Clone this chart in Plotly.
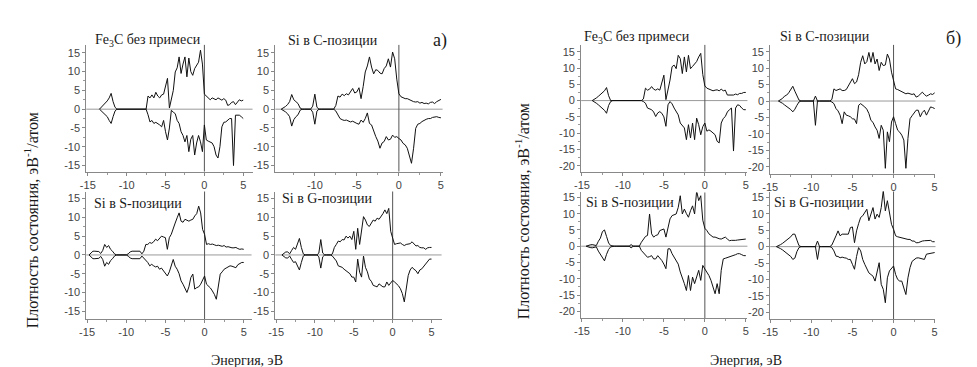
import plotly.graph_objects as go

W, H = 977, 367

# Energy grid (eV)
E = [
    -15, -14.75, -14.5, -14.25,
    -14, -13.75, -13.5, -13.25,
    -13, -12.75, -12.5, -12.25,
    -12, -11.75, -11.5, -11.25,
    -11, -10.75, -10.5, -10.25,
    -10, -9.75, -9.5, -9.25,
    -9, -8.75, -8.5, -8.25,
    -8, -7.75, -7.5, -7.25,
    -7, -6.75, -6.5, -6.25,
    -6, -5.75, -5.5, -5.25,
    -5, -4.75, -4.5, -4.25,
    -4, -3.75, -3.5, -3.25,
    -3, -2.75, -2.5, -2.25,
    -2, -1.75, -1.5, -1.25,
    -1, -0.75, -0.5, -0.25,
    0, 0.25, 0.5, 0.75,
    1, 1.25, 1.5, 1.75,
    2, 2.25, 2.5, 2.75,
    3, 3.25, 3.5, 3.75,
    4, 4.25, 4.5, 4.75,
    5,
]

# ---------------- panel a) ----------------
a_fe3c_up = [
    0, 0, 0, 0,
    0, 0, 0, 0.5,
    1, 1.5, 2.2, 3,
    4.2, 2, 0.5, 0,
    0, 0, 0, 0,
    0, 0, 0, 0,
    0, 0, 0, 0,
    0, 0, 0, 3.5,
    3, 3.8, 3, 4.5,
    3.5, 3, 3.8, 4,
    6, 8.2, 0.3, 3,
    5, 9.9, 11, 13.9,
    9.5, 12, 13.9, 8.6,
    13.6, 10, 9, 10.8,
    11.5, 12.5, 15.7, 12,
    4, 3.5, 2.8, 2.5,
    3, 2.8, 2.5, 3,
    2.6, 2.4, 2.8, 2.4,
    1, 1.2, 1.8, 2,
    1.2, 1.8, 2.5, 2.2,
    2.4,
]
a_fe3c_down = [
    0, 0, 0, 0,
    0, 0, 0, -0.5,
    -1, -1.5, -2, -3,
    -3.8, -2, -0.5, 0,
    0, 0, 0, 0,
    0, 0, 0, 0,
    0, 0, 0, 0,
    0, 0, 0, -1.5,
    -3.4, -3, -3.8, -3.5,
    -3.8, -4.2, -4.7, -3,
    -6, -8.2, -5, -0.3,
    -0.8, -1.2, -3, -3.8,
    -6, -7, -8.7, -7,
    -11.3, -8, -7, -12.2,
    -9, -7, -8.7, -11.3,
    -4.2, -8.2, -8.5, -8.7,
    -9, -10, -12.2, -13,
    -10, -4.7, -3.5, -3.4,
    -3, -2.5, -2.5, -15,
    -1.6, -1.6, -1.6, -2,
    -2.5,
]
a_sic_up = [
    0, 0, 0, 0,
    0, 0.3, 0.7, 1.2,
    2, 3.9, 2.5, 2,
    1.5, 0.3, 0, 0,
    0, 0, 0, 0.8,
    4, 0.5, 0, 0,
    0, 0, 0, 0,
    0, 0, 1, 3.5,
    3.2, 4, 3.6, 4.1,
    3.8, 4.5, 5.5, 4.3,
    4.6, 5.7, 2.8, 6,
    9.9, 11.5, 13.9, 11.2,
    9.4, 10.5, 10.3, 9.6,
    9.4, 10.8, 11.5, 13.4,
    11.2, 15.2, 13.4, 8,
    4.1, 3.3, 3, 2.8,
    2.8, 2.5, 2.3, 2,
    1.9, 2, 1.6, 1.8,
    1.5, 1.6, 1.4, 1.8,
    1.9, 1.5, 2, 2.3,
    2.6,
]
a_sic_down = [
    0, 0, 0, 0,
    0, -0.3, -0.7, -1.2,
    -2, -4.5, -2.8, -2,
    -1.5, -0.3, 0, 0,
    0, 0, 0, -0.8,
    -4, -0.5, 0, 0,
    0, 0, 0, 0,
    0, 0, -0.5, -1.6,
    -2.5, -2.8, -3, -2.9,
    -3.1, -3.4, -3.2, -3.6,
    -3.8, -4, -2.9, -3.5,
    -2.5, -1, -3.8, -4.2,
    -6, -7.3, -8.5, -10.4,
    -9, -8.6, -7.3, -8.2,
    -8, -6.9, -7.5, -7.3,
    -7.8, -8.2, -9.1, -9.5,
    -10.4, -12.2, -14.4, -10.4,
    -5.1, -4, -3.8, -3.3,
    -2.9, -2.7, -2.5, -2.5,
    -2.2, -2, -2, -2.2,
    -2.3,
]
a_sis_up = [
    0, 0, 0.5, 1,
    1, 1, 0.9, 0.4,
    1.2, 2.8, 2, 2.5,
    1.5, 1, 0.3, 0,
    0, 0, 0, 0,
    0, 0.3, 0.8, 1,
    1, 0.9, 0.8, 1,
    0.3, 1, 2.8, 2.8,
    3.3, 3.1, 3.5, 4.2,
    3.8, 4.5, 5, 4.8,
    4.6, 1.5, 4.6, 5.5,
    7.3, 8.5, 9.9, 11.2,
    9, 8.7, 9.5, 9.2,
    9, 9.3, 9.5, 10.4,
    11, 13, 11.2, 6.8,
    5.5, 2.8, 3, 2.8,
    2.9, 2.7, 2.5, 2.6,
    2.4, 2.3, 2.5, 2.1,
    2.2, 2, 1.9, 1.9,
    2, 1.7, 1.5, 1.6,
    1.5,
]
a_sis_down = [
    0, 0, -0.5, -1,
    -1, -1, -0.9, -0.4,
    -1.2, -3, -2, -2.5,
    -1.5, -1, -0.3, 0,
    0, 0, 0, 0,
    0, -0.3, -0.8, -1,
    -1, -0.9, -0.8, -1,
    -0.3, -0.8, -1.5, -2,
    -2.9, -2.5, -2.9, -3.2,
    -3, -3.8, -3.5, -4.2,
    -4.7, -5.6, -4.5, -2.5,
    -1.2, -3, -3.8, -5,
    -6.9, -7.8, -8.7, -10,
    -8.5, -6, -5.1, -9.1,
    -8.7, -8.5, -7.8, -6.5,
    -5.6, -7.8, -8.2, -8.8,
    -9.6, -10.5, -11.8, -8.7,
    -5.1, -4.5, -3.8, -3.5,
    -3.2, -2.9, -3, -3.2,
    -3.4, -2.6, -2.3, -2,
    -2,
]
a_sig_up = [
    0, 0, 0, 0,
    0.3, 0.8, 0.8, 0.3,
    1.2, 2, 1.5, 3,
    4.4, 2, 0.3, 0,
    0, 0, 0, 0,
    0, 0, 0.5, 4.1,
    0.5, 0, 0, 0,
    0, 0.3, 2, 2.8,
    3.7, 3.5, 4.1, 4,
    5, 4.5, 5, 4.1,
    6.3, 1.5, 7.1, 2.8,
    6.3, 10.2, 9.3, 8,
    7.6, 8.5, 9.3, 9,
    9.8, 9.5, 10.2, 11,
    12, 11, 12.4, 6.3,
    4.5, 2.8, 3, 3.2,
    3.2, 2.8, 2.5, 2.8,
    2.8, 3, 3.5, 2.8,
    2.4, 2.5, 2, 1.9,
    1.9, 1.5, 1.9, 2,
    2,
]
a_sig_down = [
    0, 0, 0, 0,
    -0.3, -0.8, -0.8, -0.3,
    -1.2, -2, -1.8, -3,
    -4, -2, -0.3, 0,
    0, 0, 0, 0,
    0, 0, -0.5, -3.5,
    -0.5, 0, 0, 0,
    0, -0.3, -1, -1.6,
    -2.9, -3, -3.3, -3.8,
    -4.2, -4.5, -5, -5.9,
    -5.9, -7.2, -1.1, -4.6,
    -5.9, -0.3, -3.3, -4.5,
    -6.4, -7, -8.1, -8.3,
    -8.5, -7.7, -8, -8.5,
    -8.5, -7.2, -8.1, -7.5,
    -6.8, -7.2, -7.7, -8.2,
    -9, -10.3, -12.5, -8.5,
    -5.5, -4, -3.3, -3.8,
    -4.2, -5, -4, -3.7,
    -3, -2.3, -1.8, -1.1,
    -1.1,
]

# ---------------- panel б) ----------------
b_fe3c_up = [
    0, 0, 0, 0,
    0, 0, 0.3, 0.8,
    1.3, 1.8, 2.3, 3,
    4, 1.5, 0, 0,
    0, 0, 0, 0,
    0, 0, 0, 0,
    0, 0, 0, 0,
    0, 0, 0.5, 3.8,
    3.2, 3.5, 4.3, 3.5,
    3.2, 3.6, 3.2, 5.3,
    7.8, 0.3, 3.2, 6.3,
    10.4, 10.9, 9.8, 13.9,
    12.9, 8.3, 13.4, 8.8,
    13.9, 9.8, 10.5, 11.4,
    12, 13.4, 14.5, 8,
    4.5, 3.8, 3.5, 3.2,
    3, 3.2, 3.3, 3,
    3.5, 3, 3.2, 1.7,
    1.7, 1.8, 1.7, 2,
    1.8, 2.2, 2.2, 2.5,
    2.5,
]
b_fe3c_down = [
    0, 0, 0, 0,
    0, 0, -0.3, -0.8,
    -1.3, -1.8, -2.3, -3,
    -3.9, -1.5, -0.3, 0,
    0, 0, 0, 0,
    0, 0, 0, 0,
    0, 0, 0, 0,
    0, 0, -0.3, -0.8,
    -2.3, -2.5, -2.8, -3.5,
    -4.9, -3.8, -3.4, -3.9,
    -5, -7.9, -1.3, -0.3,
    -1, -2.3, -3.2, -4.4,
    -6.9, -7.5, -8.4, -12,
    -7.4, -11.5, -6.9, -12,
    -5.4, -7.4, -10.5, -8,
    -6.9, -9.4, -9, -9.4,
    -10, -10.5, -12.5, -13,
    -6.9, -5.5, -4.9, -3.5,
    -2.8, -2.3, -15.5, -2.3,
    -1.3, -1.5, -2.3, -2.8,
    -2.8,
]
b_sic_up = [
    0, 0, 0, 0,
    0, 0.3, 0.8, 1.5,
    1.8, 2.5, 3.5, 4.5,
    3, 1.5, 0.3, 0,
    0, 0, 0, 0,
    0, 0, 1.5, 0,
    0, 0, 0, 0,
    0, 0, 0.5, 3.7,
    3.2, 3.5, 3.7, 3.2,
    3.2, 3.5, 4.7, 5.5,
    6.8, 5.3, 5.8, 8,
    11.8, 13.8, 11.3, 12,
    14.8, 11.8, 14.8, 11.3,
    12.8, 9.3, 11.8, 10.8,
    11, 14.3, 12.8, 8.8,
    5.8, 3.7, 3.5, 3.2,
    2.8, 2.5, 2.2, 2.4,
    2.2, 2, 2.2, 1.2,
    1.5, 2, 2.7, 2,
    1.5, 1.8, 2.2, 2,
    2.5,
]
b_sic_down = [
    0, 0, 0, 0,
    0, -0.3, -0.7, -1.2,
    -1.6, -2, -2.6, -3.3,
    -2.5, -1.3, -0.3, 0,
    0, 0, 0, 0,
    0, 0, -7.4, 0,
    0, 0, 0, 0,
    0, 0, -0.3, -0.8,
    -2.3, -3, -4.3, -6.9,
    -3.3, -4.3, -4.5, -4.8,
    -5.4, -5.5, -6.9, -1.3,
    -0.8, -1.2, -1.8, -2.5,
    -3.8, -5.9, -6.5, -7.9,
    -8.9, -11.4, -7.4, -8.9,
    -20.5, -9.4, -12.4, -6.4,
    -4.8, -6.9, -8.9, -9.5,
    -10.4, -11.9, -20.5, -11.4,
    -5.4, -4.5, -3.8, -2.8,
    -2.8, -4.8, -3.5, -2.8,
    -4.3, -3, -1.8, -2,
    -2.3,
]
b_sis_up = [
    0, 0, 0, 0.3,
    0.4, 0.5, 0.4, 0.2,
    1.5, 2.5, 4.5, 5,
    3, 1, 0.2, 0,
    0, 0, 0, 0,
    0, 0, 0, 0,
    0.5, 0, 0, 0,
    0, 1.2, 2.2, 3,
    3.3, 9.9, 3.8, 2.8,
    3.3, 3.5, 4.8, 5,
    5.3, 2.8, 5.8, 8.4,
    9.4, 9.6, 9.9, 11.9,
    15.5, 9.9, 11.4, 10,
    8.9, 10.9, 12.4, 9.9,
    17, 14, 15.5, 8,
    5.5, 4.8, 3.8, 3.3,
    2.8, 2.8, 2.5, 2.3,
    2.2, 2.5, 2.8, 2.2,
    1.7, 1.8, 1.7, 1.8,
    1.9, 2, 2.2, 2.2,
    2.2,
]
b_sis_down = [
    0, 0, 0, -0.3,
    -0.4, -0.5, -0.4, -0.2,
    -1.5, -2.5, -3.5, -4.5,
    -2.5, -1, -0.2, 0,
    0, 0, 0, 0,
    0, 0, 0, 0,
    -0.5, 0, 0, 0,
    0, -1.3, -2, -2.9,
    -3.4, -3.2, -2.9, -3.9,
    -3.9, -2.9, -3.5, -4.4,
    -5.5, -6.9, -0.8, -0.8,
    -2.3, -3.3, -4.4, -5.5,
    -7.9, -9.5, -11.5, -13.6,
    -9, -13.6, -9.5, -11.5,
    -9, -7.4, -10.5, -5.9,
    -7, -8, -9, -10.5,
    -12.6, -14.6, -11.5, -14.6,
    -7.4, -3.9, -3.7, -3.5,
    -3.4, -3.2, -2.9, -2.6,
    -2.3, -2.3, -2.6, -2.9,
    -2.9,
]
b_sig_up = [
    0, 0, 0, 0,
    0.2, 0.6, 1, 1.5,
    2, 2.5, 3, 3.8,
    3.8, 2, 0.3, 0,
    0, 0, 0, 0,
    0, 0, 0, 1.7,
    0, 0, 0, 0,
    0, 0, 0.5, 1.7,
    3.3, 4.8, 3.3, 3.8,
    3.8, 3.8, 3.8, 5.8,
    6, 1.2, 4.8, 7,
    8.9, 9.4, 10.5, 11.4,
    7.9, 9.9, 11.9, 8.4,
    9.9, 8.9, 11.9, 17,
    10.9, 14, 10.9, 6.8,
    5.3, 3.3, 3, 2.8,
    2.8, 2.5, 2.3, 2.2,
    2.2, 1.7, 1.7, 1.2,
    1.2, 1.5, 1.7, 1.8,
    1.8, 1.9, 1.9, 1.5,
    1.5,
]
b_sig_down = [
    0, 0, 0, 0,
    -0.2, -0.6, -1, -1.5,
    -2, -2.5, -3, -3.9,
    -3.5, -1.5, -0.3, 0,
    0, 0, 0, 0,
    0, 0, 0, -3.9,
    0, 0, 0, 0,
    0, 0, -0.3, -1.3,
    -2.9, -3, -3.4, -3.2,
    -3.4, -3.5, -3.9, -3.9,
    -5.4, -6.9, -3, -0.3,
    -1.3, -3.9, -5.4, -6.5,
    -8, -8.5, -9, -10.5,
    -8, -4.9, -11.5, -13,
    -17.1, -9.5, -7.4, -6.5,
    -5.9, -8.5, -10, -10.5,
    -10.5, -12.6, -14.6, -9.5,
    -6.4, -4.5, -3.9, -3.5,
    -3.4, -3.6, -3.9, -3.9,
    -2.3, -2.2, -2, -1.8,
    -1.8,
]

titles = ["Fe<sub>3</sub>C без примеси", "Si в C-позиции", "Si в S-позиции", "Si в G-позиции"]
yticks_a = [-15, -10, -5, 0, 5, 10, 15]
yticks_b = [-20, -15, -10, -5, 0, 5, 10, 15]
xticks = [-15, -10, -5, 0, 5]
ytitle = "Плотность состояния, эВ<sup>-1</sup>/атом"
xtitle = "Энергия, эВ"

panels = [
    dict(up=a_fe3c_up, dn=a_fe3c_down, px=(71, 239), py=(36, 163), xr=(-15.2, 6.2), yr=(-16.6, 17.1), yt=yticks_a, title=0, tpos=(133, 32)),
    dict(up=a_sic_up, dn=a_sic_down, px=(262, 431), py=(36, 163), xr=(-14.7, 5.2), yr=(-16.6, 17.1), yt=yticks_a, title=1, tpos=(320, 32)),
    dict(up=a_sis_up, dn=a_sis_down, px=(71, 238), py=(183, 311), xr=(-15.1, 6.0), yr=(-17.1, 16.9), yt=yticks_a, title=2, tpos=(123, 195)),
    dict(up=a_sig_up, dn=a_sig_down, px=(262, 430), py=(183, 311), xr=(-15.1, 6.3), yr=(-17.1, 16.9), yt=yticks_a, title=3, tpos=(315, 190)),
    dict(up=b_fe3c_up, dn=b_fe3c_down, px=(571, 739), py=(36, 163), xr=(-15.1, 5.2), yr=(-21.8, 17.1), yt=yticks_b, title=0, tpos=(627, 29)),
    dict(up=b_sic_up, dn=b_sic_down, px=(762, 929), py=(36, 165), xr=(-15.0, 5.1), yr=(-22.1, 17.1), yt=yticks_b, title=1, tpos=(817, 28)),
    dict(up=b_sis_up, dn=b_sis_down, px=(571, 739), py=(184, 310), xr=(-15.1, 5.2), yr=(-22.1, 16.5), yt=yticks_b, title=2, tpos=(620, 194)),
    dict(up=b_sig_up, dn=b_sig_down, px=(762, 929), py=(183, 311), xr=(-15.0, 5.1), yr=(-22.1, 16.8), yt=yticks_b, title=3, tpos=(812, 194)),
]


def trim_leading(vals):
    # hide the flat part before the first band (start one point before it)
    first = next(i for i, v in enumerate(vals) if v != 0)
    start = max(first - 1, 0)
    return [None] * start + vals[start:]


def hyphen(v):
    return str(v).replace("−", "-")


fig = go.Figure()
layout = dict(
    width=W, height=H, margin=dict(l=0, r=0, t=0, b=0),
    paper_bgcolor="white", plot_bgcolor="white", showlegend=False,
)
shapes = []
annotations = []
tickfont = dict(family="Liberation Sans", size=11, color="#444")
serif = "Liberation Serif"

for i, p in enumerate(panels):
    n = "" if i == 0 else str(i + 1)
    assert len(p["up"]) == len(E) and len(p["dn"]) == len(E), i
    for vals in (p["up"], p["dn"]):
        fig.add_trace(go.Scatter(x=E, y=trim_leading(vals), mode="lines", xaxis="x" + n, yaxis="y" + n,
                                 line=dict(color="#111", width=1), hoverinfo="skip",
                                 connectgaps=False))
    x0, x1 = p["px"]
    yt, yb = p["py"]
    common = dict(showline=True, linecolor="#888", linewidth=1,
                  ticks="outside", ticklen=3, tickcolor="#888", showgrid=False, zeroline=False,
                  tickfont=tickfont,
                  minor=dict(tickmode="linear", tick0=0, dtick=2.5, ticks="outside", ticklen=2, tickcolor="#999"))
    layout["xaxis" + n] = dict(domain=[x0 / W, x1 / W], range=list(p["xr"]), anchor="y" + n,
                               tickvals=xticks, ticktext=[hyphen(v) for v in xticks], **common)
    layout["yaxis" + n] = dict(domain=[1 - yb / H, 1 - yt / H], range=list(p["yr"]), anchor="x" + n,
                               tickvals=p["yt"], ticktext=[hyphen(v) for v in p["yt"]], **common)
    xref = "x" + n
    yref = "y" + n
    shapes.append(dict(type="line", xref=xref + " domain", yref=yref, x0=0, x1=1, y0=0, y1=0,
                       line=dict(color="#999", width=1), layer="below"))
    shapes.append(dict(type="line", xref=xref, yref=yref + " domain", x0=0, x1=0, y0=0, y1=1,
                       line=dict(color="#555", width=1), layer="below"))
    tx, ty = p["tpos"]
    annotations.append(dict(text=titles[p["title"]], x=tx / W, y=1 - ty / H, xref="paper", yref="paper",
                            showarrow=False, xanchor="center", yanchor="middle",
                            font=dict(family=serif, size=14, color="#1a1a1a")))

extra = [
    dict(text=ytitle, x=16 / W, y=1 - 212 / H, textangle=-90, fs=16),
    dict(text=ytitle, x=512 / W, y=1 - 203 / H, textangle=-90, fs=16),
    dict(text=xtitle, x=233 / W, y=1 - 352 / H, fs=14),
    dict(text=xtitle, x=738 / W, y=1 - 352 / H, fs=14),
    dict(text="а)", x=428 / W, y=1 - 32 / H, fs=18),
    dict(text="б)", x=947 / W, y=1 - 30 / H, fs=18),
]
for a in extra:
    fs = a.pop("fs")
    a.update(xref="paper", yref="paper", showarrow=False, xanchor="center", yanchor="middle",
             font=dict(family=serif, size=fs, color="#1a1a1a"))
    annotations.append(a)

layout["shapes"] = shapes
layout["annotations"] = annotations
fig.update_layout(**layout)
fig.write_html("out.html")
